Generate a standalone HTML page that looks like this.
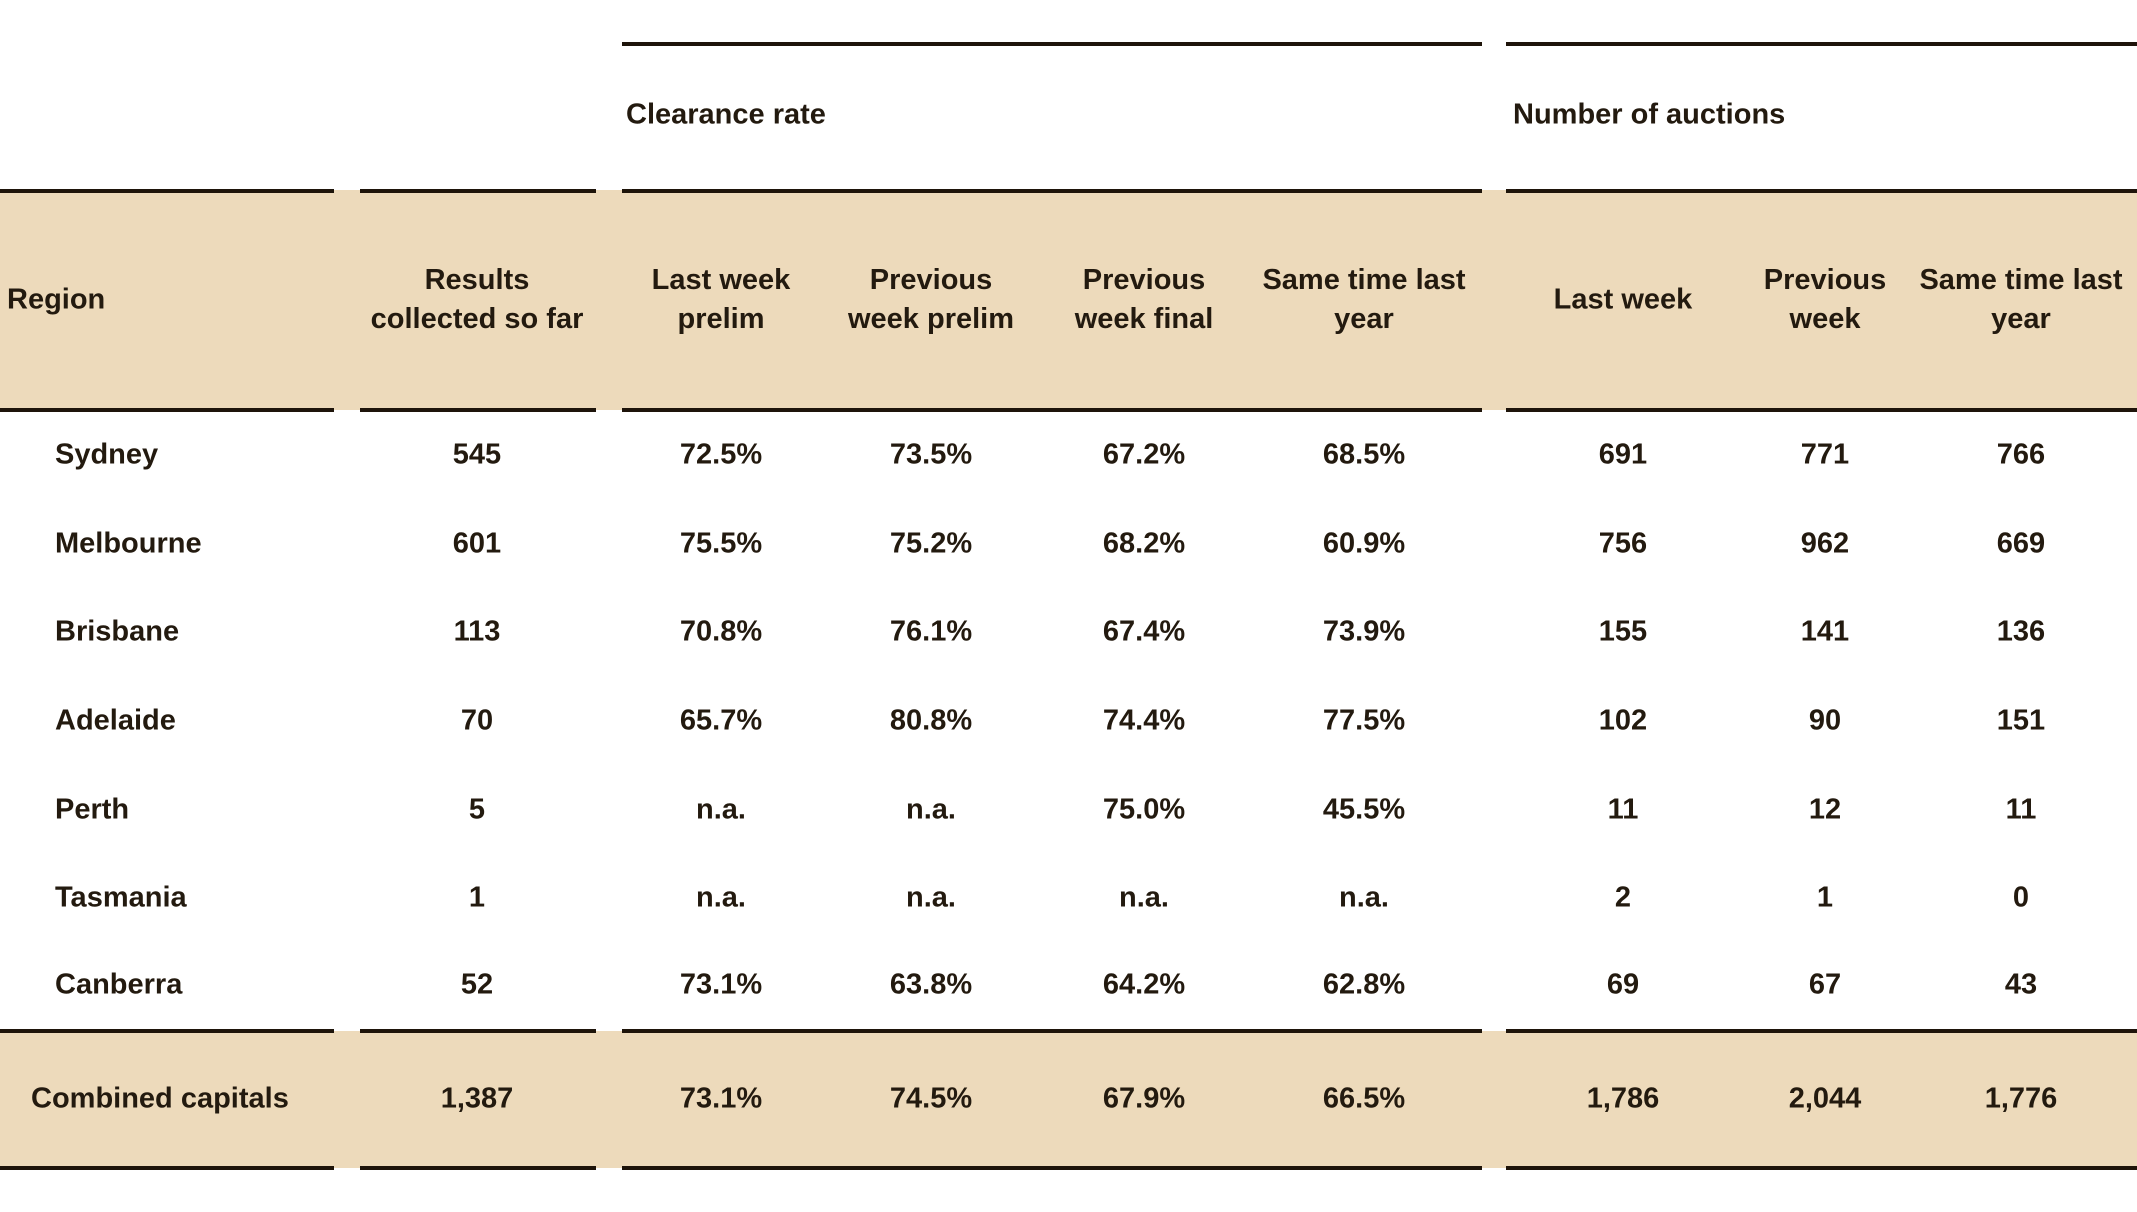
<!DOCTYPE html>
<html><head><meta charset="utf-8"><style>
body{margin:0;width:2137px;height:1212px;background:#fff;position:relative;overflow:hidden;font-family:"Liberation Sans",Arial,sans-serif;font-weight:bold;color:#231a0f;font-size:29px}
.a{position:absolute}
.c{position:absolute;transform:translate(-50%,-50%);white-space:nowrap;text-align:center;line-height:39px}
.l{position:absolute;transform:translateY(-50%);white-space:nowrap}
.ln{position:absolute;height:4px;background:#1e140a}
</style></head><body>
<div class="a" style="left:0;top:190px;width:2137px;height:220px;background:#eddabb"></div>
<div class="a" style="left:0;top:1031px;width:2137px;height:137px;background:#eddabb"></div>
<div id="lines"></div>
<div class="l" style="left:626px;top:115px">Clearance rate</div>
<div class="l" style="left:1513px;top:115px">Number of auctions</div>
<div class="l" style="left:7px;top:300px">Region</div>
<div id="tbl"></div>
<script>
const segs=[[0,334],[360,596],[622,1482],[1506,2137]];
const lineYs=[189,408,1029,1166];
const L=document.getElementById('lines');
[[622,1482],[1506,2137]].forEach(s=>{const d=document.createElement('div');d.className='ln';d.style.cssText=`left:${s[0]}px;top:42px;width:${s[1]-s[0]}px`;

L.appendChild(d);});
lineYs.forEach(y=>segs.forEach(s=>{const d=document.createElement('div');d.className='ln';d.style.cssText=`left:${s[0]}px;top:${y}px;width:${s[1]-s[0]}px`;

L.appendChild(d);}));
const colX=[477,721,931,1144,1364,1623,1825,2021];
const headers=["Results<br>collected so far","Last week<br>prelim","Previous<br>week prelim","Previous<br>week final","Same time last<br>year","Last week","Previous<br>week","Same time last<br>year"];
const regions=["Sydney","Melbourne","Brisbane","Adelaide","Perth","Tasmania","Canberra"];
const rows=[
["545","72.5%","73.5%","67.2%","68.5%","691","771","766"],
["601","75.5%","75.2%","68.2%","60.9%","756","962","669"],
["113","70.8%","76.1%","67.4%","73.9%","155","141","136"],
["70","65.7%","80.8%","74.4%","77.5%","102","90","151"],
["5","n.a.","n.a.","75.0%","45.5%","11","12","11"],
["1","n.a.","n.a.","n.a.","n.a.","2","1","0"],
["52","73.1%","63.8%","64.2%","62.8%","69","67","43"]];
const total=["1,387","73.1%","74.5%","67.9%","66.5%","1,786","2,044","1,776"];
const rowY=[455,544,632,721,810,898,985];
const T=document.getElementById('tbl');
function add(cls,x,y,html,name){const d=document.createElement('div');d.className=cls;d.style.left=x+'px';d.style.top=y+'px';d.innerHTML=html;

T.appendChild(d);}
headers.forEach((h,i)=>add('c',colX[i],300,h,'column-header'));
regions.forEach((r,i)=>{add('l',55,rowY[i],r,'region-label');rows[i].forEach((v,j)=>add('c',colX[j],rowY[i],v,'table-cell'));});
add('l',31,1099,'Combined capitals','combined-capitals-label');
total.forEach((v,j)=>add('c',colX[j],1099,v,'total-cell'));
</script>
</body></html>
